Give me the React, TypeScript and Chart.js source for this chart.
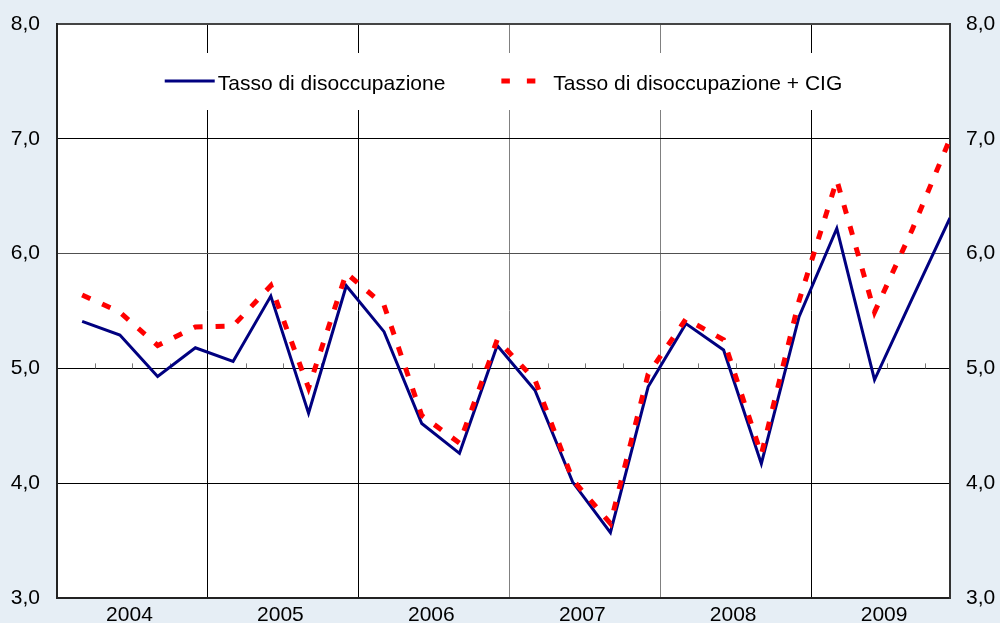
import React, { useEffect, useRef } from 'react';
import { Chart, registerables } from 'chart.js';

Chart.register(...registerables);

// ---- data ----
const years = ['2004', '2005', '2006', '2007', '2008', '2009'];
const quarters = ['I', 'II', 'III', 'IV'];
const seriesNames = ['Tasso di disoccupazione', 'Tasso di disoccupazione + CIG'];
const unemployment = [
  5.41, 5.29, 4.93, 5.18,
  5.06, 5.63, 4.61, 5.72,
  5.32, 4.52, 4.26, 5.20,
  4.81, 4.01, 3.57, 4.84,
  5.39, 5.16, 4.17, 5.45,
  6.22, 4.90, 5.61, 6.31,
];
const unemploymentCig = [
  5.64, 5.49, 5.20, 5.36,
  5.37, 5.72, 4.83, 5.83,
  5.55, 4.59, 4.35, 5.25,
  4.90, 4.03, 3.65, 4.95,
  5.43, 5.25, 4.25, 5.59,
  6.64, 5.49, 6.21, 7.00,
];
const yTicks = [3, 4, 5, 6, 7, 8];

// months-based x scale: each quarterly value is placed at the 2nd month mark of its quarter
const MONTHS_PER_QUARTER = 3;
const MONTH_IN_QUARTER = 2;
const categories = years.flatMap((y) => quarters.map((q) => `${q} ${y}`));
const xOf = (i: number) => i * MONTHS_PER_QUARTER + MONTH_IN_QUARTER;
const X_MAX = xOf(categories.length - 1);

const FONT = '"Liberation Sans", Arial, Helvetica, sans-serif';
const BG = '#e6eef5';
const BLUE = '#000080';
const RED = '#ff0000';

const bgPlugin = {
  id: 'bgPlugin',
  beforeDraw(chart: any) {
    const { ctx, chartArea, width, height } = chart;
    ctx.save();
    ctx.fillStyle = BG;
    ctx.fillRect(0, 0, width, height);
    ctx.fillStyle = '#ffffff';
    ctx.fillRect(chartArea.left, chartArea.top, chartArea.right - chartArea.left, chartArea.bottom - chartArea.top);
    ctx.restore();
  },
};

const decorPlugin = {
  id: 'decorPlugin',
  beforeDatasetsDraw(chart: any) {
    const { ctx, chartArea, scales } = chart;
    const xs = scales.x;
    const ys = scales.y;
    ctx.save();
    // quarter minor ticks on the 5,0 line
    const y5 = ys.getPixelForValue(5);
    ctx.strokeStyle = '#777777';
    ctx.lineWidth = 1;
    for (let m = MONTHS_PER_QUARTER; m < X_MAX; m += MONTHS_PER_QUARTER) {
      if (m % 12 === 0) continue;
      const px = Math.round(xs.getPixelForValue(m)) + 0.5;
      ctx.beginPath();
      ctx.moveTo(px, y5);
      ctx.lineTo(px, y5 - 5);
      ctx.stroke();
    }

    // legend inside the plot area
    ctx.font = `21px ${FONT}`;
    const w1 = ctx.measureText(seriesNames[0]).width;
    const w2 = ctx.measureText(seriesNames[1]).width;
    const sample1 = 50, gap1 = 3, gapItems = 56, sample2 = 34, gap2 = 18;
    const total = sample1 + gap1 + w1 + gapItems + sample2 + gap2 + w2;
    const cx = (chartArea.left + chartArea.right) / 2;
    const cy = chartArea.top + 57.5;
    let x = cx - total / 2;
    ctx.fillStyle = '#ffffff';
    ctx.fillRect(x - 22, cy - 28.5, total + 44, 57);

    ctx.strokeStyle = BLUE;
    ctx.lineWidth = 3;
    ctx.beginPath();
    ctx.moveTo(x, cy - 0.5);
    ctx.lineTo(x + sample1, cy - 0.5);
    ctx.stroke();
    x += sample1 + gap1;
    ctx.fillStyle = '#000000';
    ctx.textBaseline = 'alphabetic';
    ctx.textAlign = 'left';
    ctx.fillText(seriesNames[0], x, cy + 8);
    x += w1 + gapItems;

    ctx.strokeStyle = RED;
    ctx.lineWidth = 5;
    ctx.setLineDash([8.5, 17]);
    ctx.beginPath();
    ctx.moveTo(x, cy - 0.5);
    ctx.lineTo(x + sample2, cy - 0.5);
    ctx.stroke();
    ctx.setLineDash([]);
    x += sample2 + gap2;
    ctx.fillText(seriesNames[1], x, cy + 8);
    ctx.restore();
  },
};

const fmt = (v: number) => v.toFixed(1).replace('.', ',');

export default function App() {
  const canvasRef = useRef<HTMLCanvasElement | null>(null);

  useEffect(() => {
    document.body.style.margin = '0';
    const canvas = canvasRef.current;
    if (!canvas) return;
    Chart.defaults.font.family = FONT;

    const tickFont = { family: FONT, size: 21 };
    const chart = new Chart(canvas, {
      type: 'line',
      data: {
        datasets: [
          {
            label: seriesNames[0],
            data: unemployment.map((v, i) => ({ x: xOf(i), y: v })),
            borderColor: BLUE,
            borderWidth: 3,
            pointRadius: 0,
            tension: 0,
            fill: false,
            order: 1,
          },
          {
            label: seriesNames[1],
            data: unemploymentCig.map((v, i) => ({ x: xOf(i), y: v })),
            borderColor: RED,
            borderWidth: 5,
            borderDash: [9, 13],
            borderCapStyle: 'butt',
            pointRadius: 0,
            tension: 0,
            fill: false,
            order: 0,
          },
        ],
      },
      options: {
        animation: false,
        responsive: true,
        maintainAspectRatio: false,
        layout: { padding: { top: 24, left: 0, right: 0, bottom: 0 } },
        plugins: {
          legend: { display: false },
          tooltip: { enabled: false },
        },
        scales: {
          x: {
            type: 'linear',
            position: 'bottom',
            min: 0,
            max: X_MAX,
            afterBuildTicks: (s: any) => {
              s.ticks = years.map((_, k) => ({ value: k * 12 + 6 }));
            },
            afterFit: (s: any) => {
              s.height = 25;
              s.paddingLeft = 0;
              s.paddingRight = 0;
            },
            ticks: {
              callback: (_v: any, idx: number) => years[idx],
              font: tickFont,
              color: '#000000',
              padding: 5,
              labelOffset: -3,
              maxRotation: 0,
              autoSkip: false,
            },
            grid: {
              offset: true,
              drawTicks: false,
              lineWidth: 1,
              color: (c: any) => (c.index === 3 || c.index === 4 ? '#808080' : '#000000'),
            },
            border: { display: true, color: '#222222', width: 2 },
          },
          y: {
            type: 'linear',
            position: 'left',
            min: 3,
            max: 8,
            afterBuildTicks: (s: any) => {
              s.ticks = yTicks.map((v) => ({ value: v }));
            },
            afterFit: (s: any) => {
              s.width = 57;
              s.paddingTop = 0;
              s.paddingBottom = 0;
            },
            ticks: {
              callback: (v: any) => fmt(Number(v)),
              font: tickFont,
              color: '#000000',
              padding: 17,
            },
            grid: {
              drawTicks: false,
              lineWidth: (c: any) => (c.index === 5 ? 2 : 1),
              color: (c: any) => (c.index === 5 ? '#444444' : c.index === 3 ? '#505050' : '#000000'),
            },
            border: { display: true, color: '#222222', width: 2 },
          },
          y2: {
            type: 'linear',
            position: 'right',
            min: 3,
            max: 8,
            afterBuildTicks: (s: any) => {
              s.ticks = yTicks.map((v) => ({ value: v }));
            },
            afterFit: (s: any) => {
              s.width = 50;
              s.paddingTop = 0;
              s.paddingBottom = 0;
            },
            ticks: {
              callback: (v: any) => fmt(Number(v)),
              font: tickFont,
              color: '#000000',
              padding: 16,
            },
            grid: { display: false, drawTicks: false },
            border: { display: true, color: '#333333', width: 2 },
          },
        },
      },
      plugins: [bgPlugin, decorPlugin],
    } as any);

    return () => chart.destroy();
  }, []);

  return (
    <div style={{ width: 1000, height: 623, position: 'relative', background: BG }}>
      <canvas ref={canvasRef} />
    </div>
  );
}
